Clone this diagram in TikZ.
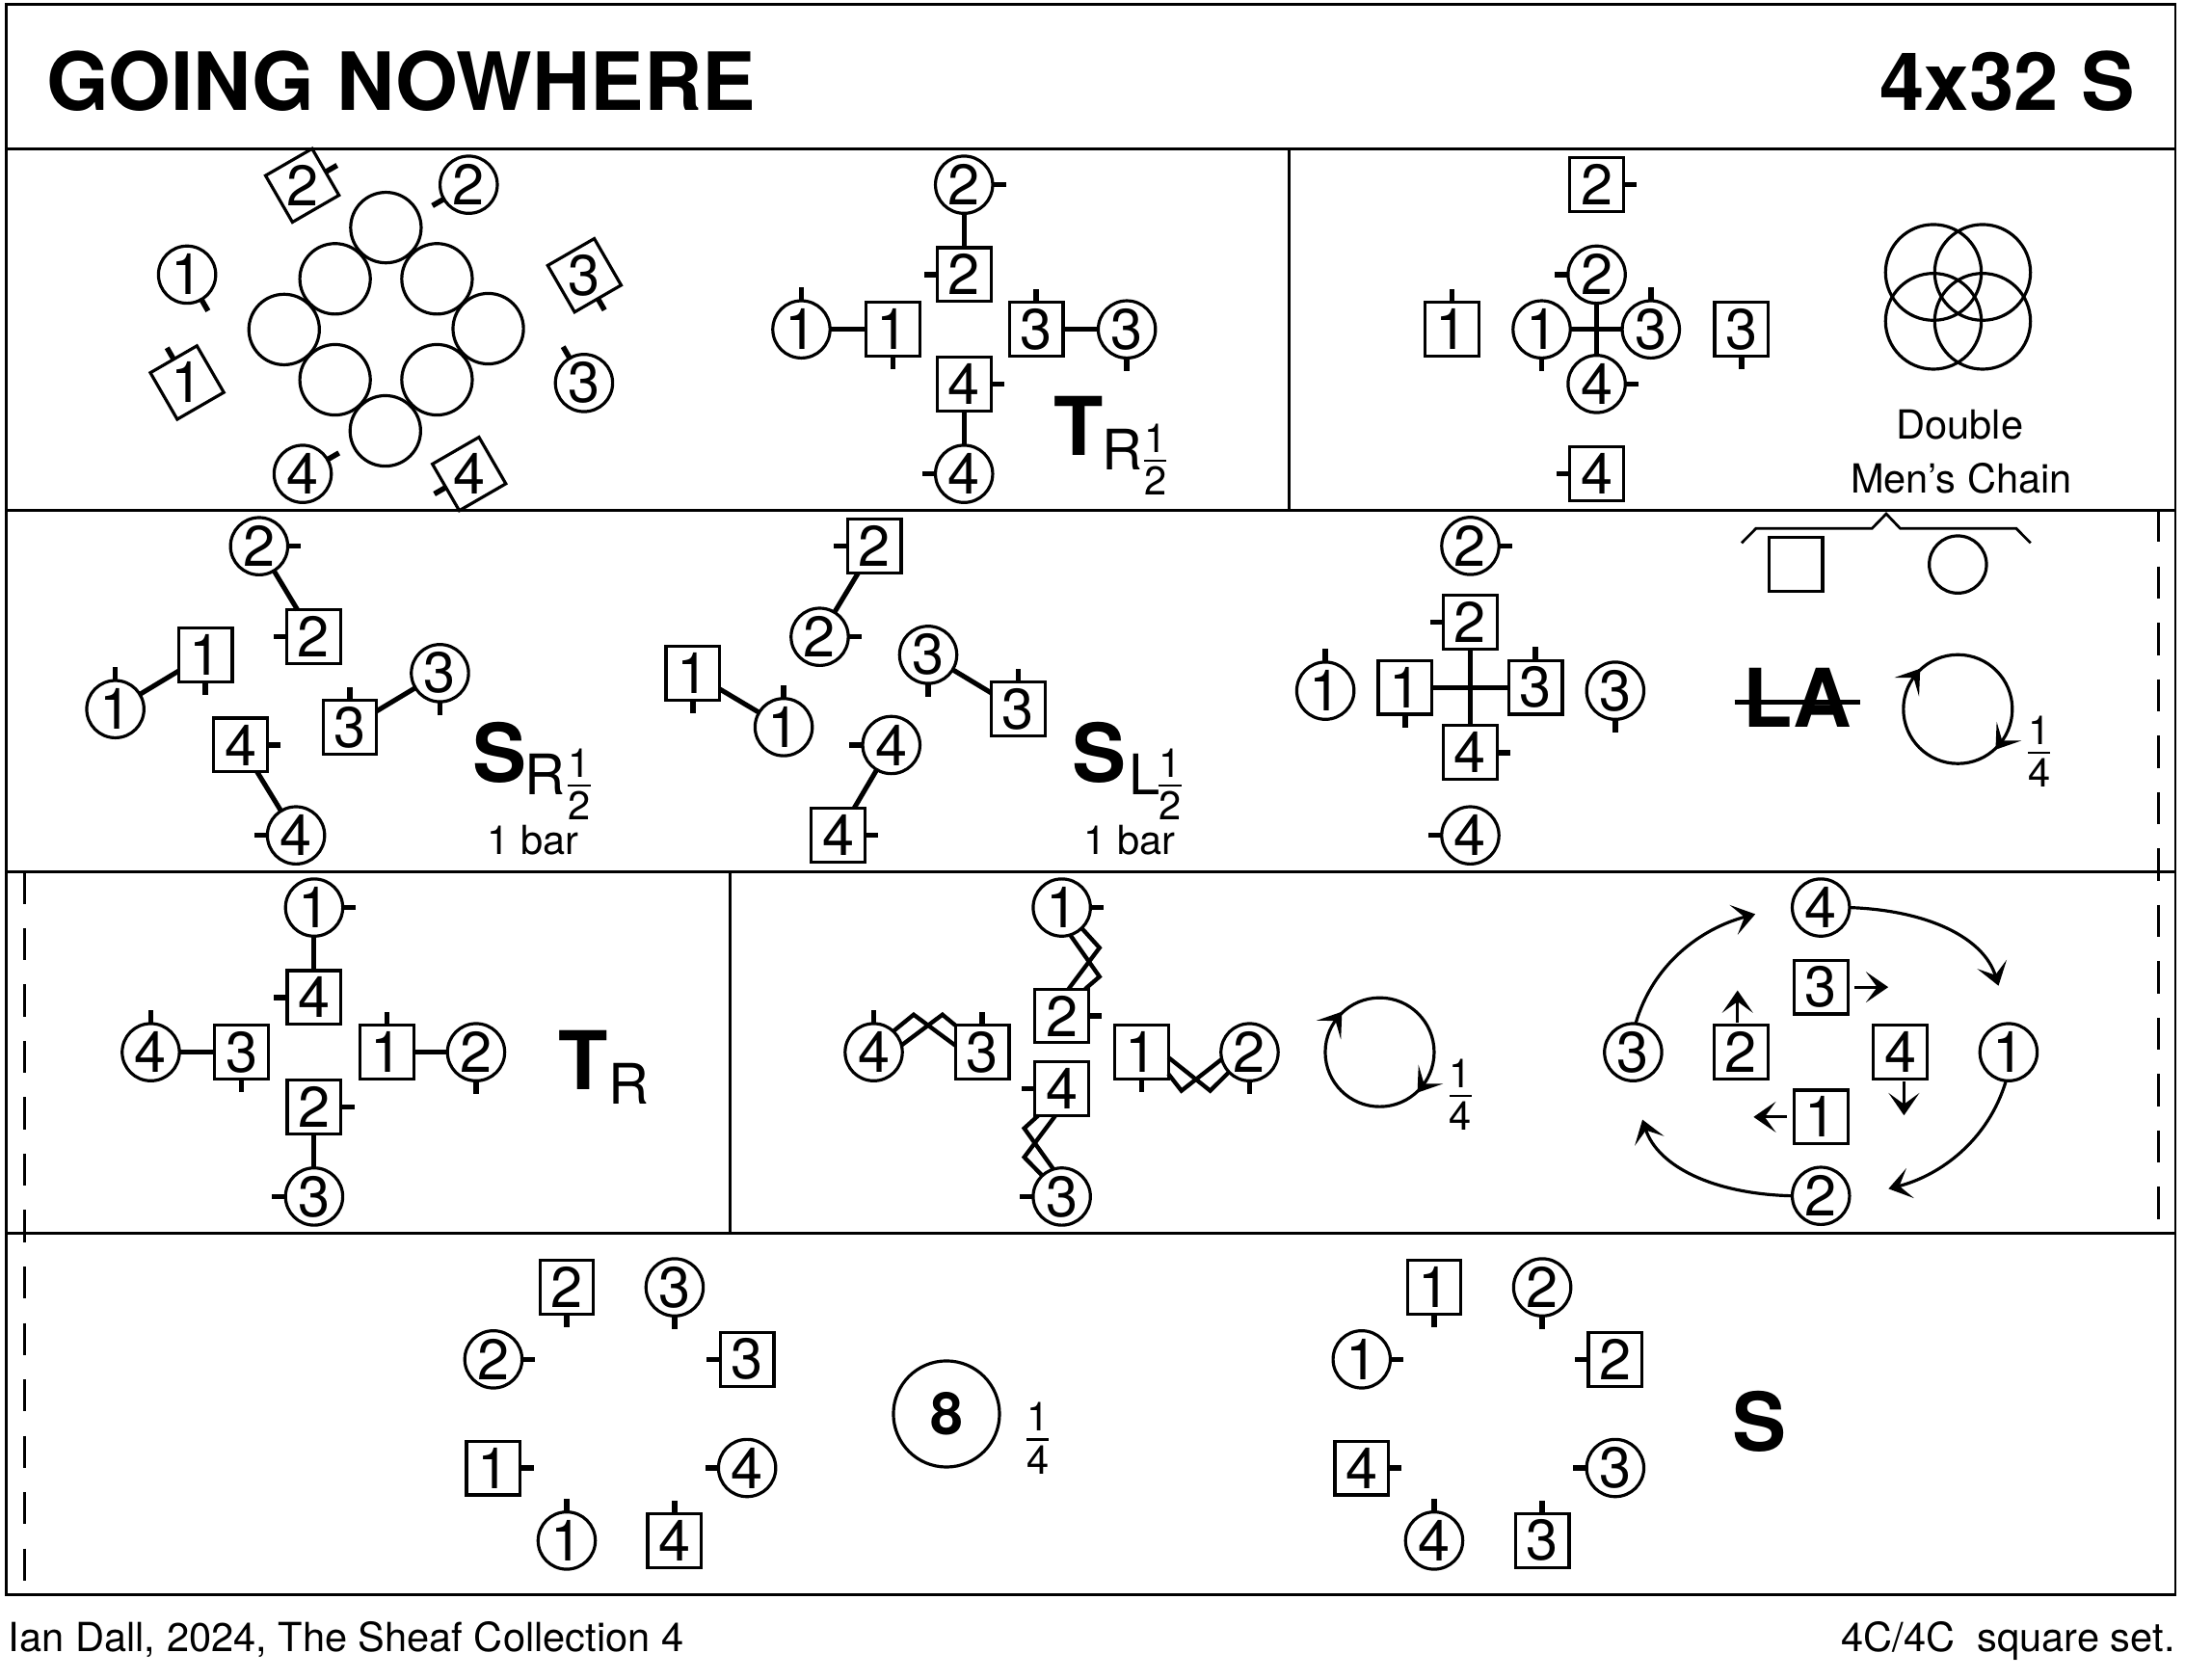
\documentclass[tikz,border=0pt]{standalone}
\usepackage{fontspec}
\setmainfont{TeX Gyre Heros}
\usetikzlibrary{arrows.meta,shapes.geometric}
\newcommand\fsz[1]{\fontsize{#1}{#1}\selectfont}
\tikzset{
  x=1pt,y=-1pt,
  panel/.style={line width=1.9pt},
  dashline/.style={line width=1.9pt,dash pattern=on 23pt off 17.4pt},
  cdancer/.style={circle,draw,line width=2.2pt,minimum size=41pt,inner sep=0pt,outer sep=0pt,font=\fsz{41}},
  sdancer/.style={rectangle,draw,line width=2.2pt,minimum size=38.5pt,inner sep=0pt,outer sep=0pt,font=\fsz{41}},
  rlabel/.style={inner sep=0pt,font=\fsz{41}},
  tick/.style={line width=3.8pt},
  conn/.style={line width=3.5pt},
  chainl/.style={line width=3pt,line join=miter},
  ringc/.style={circle,draw,line width=2.2pt,minimum size=50.5pt,inner sep=0pt},
  dring/.style={circle,draw,line width=2.2pt,minimum size=68.6pt,inner sep=0pt},
  plain/.style={inner sep=0pt,font=\fsz{28.7}},
  bigb/.style={inner sep=0pt,font=\fsz{58}\bfseries},
  subl/.style={inner sep=0pt,font=\fsz{40}},
  fracn/.style={inner sep=0pt,font=\fsz{28.7}},
  hd/.style={-{Stealth[length=16pt,width=22pt,inset=8pt]},line width=2.2pt},
  turnc/.style={line width=2.2pt},
}
\newcommand\cirt[5]{\node[cdancer] (#1) at (#2,#3) {#4}; \draw[tick] (#1.#5) -- ++(#5:9.5pt);}
\newcommand\squt[5]{\node[sdancer] (#1) at (#2,#3) {#4}; \draw[tick] (#1.#5) -- ++(#5:9.5pt);}
\newcommand\rsqu[5]{\node[sdancer,rotate=30] (#1) at (#2,#3) {}; \node[rlabel] (#1l) at (#1) {#4}; \draw[tick] (#1.#5) -- ++({#5+30}:9.5pt);}
\newcommand\frc[5]{\node[fracn,anchor=base] (#1n) at (#2,#3-6) {#4}; \node[fracn,anchor=north] (#1d) at (#2,#3+4) {#5}; \draw[line width=1.6pt] (#2-8,#3) -- (#2+8,#3);}
\newcommand\turn[3]{\coordinate (#1) at (#2,#3);
  \draw[turnc] (#1) circle[radius=39pt];
  \fill (#2-27,#3-29) -- (#2-45.4,#3-22.6) -- (#2-31.7,#3-22.5) -- (#2-27.8,#3-9) -- cycle;
  \fill (#2+27,#3+29) -- (#2+45.4,#3+22.6) -- (#2+31.7,#3+22.5) -- (#2+27.8,#3+9) -- cycle;}
\begin{document}
\begin{tikzpicture}
\useasboundingbox (0,0) rectangle (1565,1202.6);
% frame
\draw[panel] (4.7,3) rectangle (1558,1142);
\draw[panel] (4.7,106.5) -- (1558,106.5);
\draw[panel] (4.7,365.3) -- (1558,365.3);
\draw[panel] (4.7,624.3) -- (1558,624.3);
\draw[panel] (4.7,883.1) -- (1558,883.1);
\draw[panel] (923.5,106.5) -- (923.5,365.3);
\draw[panel] (522.7,624.3) -- (522.7,883.1);
\draw[dashline] (17.5,624.3) -- (17.5,1142);
\draw[dashline] (1546,365.3) -- (1546,883.1);
% title
\node[anchor=base west,inner sep=0pt,font=\fsz{57.5}\bfseries] (title) at (33,79) {GOING NOWHERE};
\node[anchor=base east,inner sep=0pt,font=\fsz{57.5}\bfseries] (form) at (1529,79) {4x32 S};
\node[plain,anchor=base west] (foot1) at (6,1182.7) {Ian Dall, 2024, The Sheaf Collection 4};
\node[plain,anchor=base east] (foot2) at (1558,1182.7) {4C/4C\ \ square set.};
% panel 1 : ring
\foreach \n/\xx/\yy in {ra/276.4/163,rb/240/199.7,rc/313/199.7,rd/203.5/236,re/349.7/235.4,rf/240/272,rg/313/272,rh/276/308.6}
  \node[ringc] (\n) at (\xx,\yy) {};
\cirt{ac1}{134}{196.7}{1}{-60}
\rsqu{as1}{134}{274}{1}{90}
\rsqu{as2}{216.5}{132.8}{2}{0}
\cirt{ac2}{335.7}{132.3}{2}{210}
\rsqu{as3}{418.6}{197.2}{3}{-90}
\cirt{ac3}{418.3}{274.3}{3}{120}
\rsqu{as4}{336}{339.4}{4}{180}
\cirt{ac4}{216.8}{339.4}{4}{30}
% panel 2 : turn
\cirt{bc2}{690.5}{132.3}{2}{0}
\squt{bs2}{690.5}{196.7}{2}{180}
\cirt{bc1}{574}{235.9}{1}{90}
\squt{bs1}{639.5}{235.9}{1}{-90}
\squt{bs3}{742.2}{235.9}{3}{90}
\cirt{bc3}{807.1}{235.9}{3}{-90}
\squt{bs4}{690.5}{275}{4}{0}
\cirt{bc4}{690.5}{339.4}{4}{180}
\draw[conn] (bc2) -- (bs2);
\draw[conn] (bc1) -- (bs1);
\draw[conn] (bs3) -- (bc3);
\draw[conn] (bs4) -- (bc4);
\node[bigb,anchor=base west] (bT) at (755,326.3) {T};
\node[subl,anchor=base west] (bR) at (789,336.4) {R};
\frc{bf}{827.6}{330.2}{1}{2}
% panel 3 : chain
\squt{cs2}{1143.6}{132.3}{2}{0}
\cirt{cc2}{1143.6}{196.7}{2}{180}
\squt{cs1}{1039.9}{235.9}{1}{90}
\cirt{cc1}{1104.2}{235.9}{1}{-90}
\cirt{cc3}{1182.4}{235.9}{3}{90}
\squt{cs3}{1247.3}{235.9}{3}{-90}
\cirt{cc4}{1143.6}{275}{4}{0}
\squt{cs4}{1143.6}{339.4}{4}{180}
\draw[conn] (cc1) -- (cc3);
\draw[conn] (cc2) -- (cc4);
\foreach \n/\xx/\yy in {da/1384.8/195.1,db/1420/195.1,dc/1384.8/230.1,dd/1420/230.1}
  \node[dring] (\n) at (\xx,\yy) {};
\node[plain,anchor=base] (dbl) at (1403.7,314.1) {Double};
\node[plain,anchor=base] (men) at (1404.7,352.8) {Men’s Chain};
% row 2 : set right
\cirt{ec2}{185.6}{391.2}{2}{0}
\squt{es2}{224.7}{456.1}{2}{180}
\squt{es1}{147.1}{469}{1}{-90}
\cirt{ec1}{82.6}{507.9}{1}{90}
\squt{es3}{250.6}{520.8}{3}{90}
\cirt{ec3}{315.1}{482.1}{3}{-90}
\squt{es4}{172.4}{533.6}{4}{0}
\cirt{ec4}{212}{598.3}{4}{180}
\draw[conn] (ec2) -- (es2);
\draw[conn] (es1) -- (ec1);
\draw[conn] (es3) -- (ec3);
\draw[conn] (es4) -- (ec4);
\node[bigb,anchor=base west] (eS) at (338.2,560) {S};
\node[subl,anchor=base west] (eR) at (376,569.5) {R};
\frc{ef}{414.9}{562.6}{1}{2}
\node[plain,anchor=base] (ebar) at (382,611.7) {1 bar};
% row 2 : set left
\squt{fs2}{626.2}{391.2}{2}{180}
\cirt{fc2}{587.1}{456.1}{2}{0}
\squt{fs1}{496.3}{482.1}{1}{-90}
\cirt{fc1}{561.3}{520.8}{1}{90}
\cirt{fc3}{664.8}{469}{3}{-90}
\squt{fs3}{729.2}{507.9}{3}{90}
\cirt{fc4}{638.4}{533.6}{4}{180}
\squt{fs4}{600.3}{598.3}{4}{0}
\draw[conn] (fs2) -- (fc2);
\draw[conn] (fs1) -- (fc1);
\draw[conn] (fc3) -- (fs3);
\draw[conn] (fc4) -- (fs4);
\node[bigb,anchor=base west] (fS) at (767.7,560) {S};
\node[subl,anchor=base west] (fL) at (808.7,569.5) {L};
\frc{ff}{838}{562.6}{1}{2}
\node[plain,anchor=base] (fbar) at (809,611.7) {1 bar};
% row 2 : cross
\cirt{gc2}{1053.1}{391}{2}{0}
\squt{gs2}{1053.1}{445.5}{2}{180}
\cirt{gc1}{949.3}{494.7}{1}{90}
\squt{gs1}{1006.4}{492.3}{1}{-90}
\squt{gs3}{1099.8}{492.3}{3}{90}
\cirt{gc3}{1156.9}{494.7}{3}{-90}
\squt{gs4}{1053.1}{539}{4}{0}
\cirt{gc4}{1053.1}{598.3}{4}{180}
\draw[conn] (gs1) -- (gs3);
\draw[conn] (gs2) -- (gs4);
\draw[line width=1.9pt] (1247.4,388.9) -- (1257.7,378.5) -- (1340.8,378.5) -- (1351,368) -- (1361,378.5) -- (1444.1,378.5) -- (1454.4,388.9);
\node[sdancer] (hs) at (1286.2,404.3) {};
\node[cdancer] (hc) at (1402.3,404.3) {};
\node[bigb,anchor=base west] (LA) at (1248.4,521) {LA};
\draw[line width=3.2pt] (1242.4,502.8) -- (1332.2,502.8);
\turn{ht}{1402.3}{507.9}
\frc{hf}{1460.6}{539}{1}{4}
% row 3 : turn
\cirt{jc1}{225}{650}{1}{0}
\squt{js4}{225}{714.4}{4}{180}
\cirt{jc4}{108}{753.6}{4}{90}
\squt{js3}{173}{753.6}{3}{-90}
\squt{js1}{277}{753.6}{1}{90}
\cirt{jc2}{341}{753.6}{2}{-90}
\squt{js2}{225}{792.7}{2}{0}
\cirt{jc3}{225}{857}{3}{180}
\draw[conn] (jc1) -- (js4);
\draw[conn] (jc4) -- (js3);
\draw[conn] (js1) -- (jc2);
\draw[conn] (js2) -- (jc3);
\node[bigb,anchor=base west] (jT) at (400,780.5) {T};
\node[subl,anchor=base west] (jR) at (435.5,790.5) {R};
% row 3 : rights
\cirt{kc1}{760.5}{650}{1}{0}
\squt{ks2}{760.5}{727.6}{2}{0}
\squt{ks3}{703.5}{753.6}{3}{90}
\cirt{kc4}{625.8}{753.6}{4}{90}
\squt{ks1}{817.6}{753.6}{1}{-90}
\cirt{kc2}{895}{753.6}{2}{-90}
\squt{ks4}{760.5}{779.6}{4}{180}
\cirt{kc3}{760.5}{857}{3}{180}
\draw[chainl] (kc4.47) -- (654.4,726.7) -- (ks3.166);
\draw[chainl] (kc4.14) -- (675,726.7) -- (ks3.135);
\draw[chainl] (ks1.-11) -- (866.8,781.2) -- (kc2.224);
\draw[chainl] (ks1.-39) -- (846.2,781.2) -- (kc2.194);
\draw[chainl] (kc1.-73) -- (787.5,699.5) -- (ks2.49);
\draw[chainl] (kc1.-46) -- (787.5,678.8) -- (ks2.76);
\draw[chainl] (ks4.-131) -- (733.6,808.1) -- (kc3.107);
\draw[chainl] (ks4.-103) -- (733.6,828.8) -- (kc3.133);
\turn{kt}{988.2}{753.6}
\frc{kf}{1046.2}{785}{1}{4}
% row 3 : chase
\node[cdancer] (lc3) at (1169.7,753.6) {3};
\node[cdancer] (lc4) at (1304.2,650) {4};
\node[cdancer] (lc1) at (1438.6,753.6) {1};
\node[cdancer] (lc2) at (1304.2,856.5) {2};
\coordinate (la) at (1257.2,654.7);
\coordinate (lb) at (1431.4,706);
\coordinate (ld) at (1352.6,851.4);
\coordinate (le) at (1176.4,801.9);
\draw[hd] (lc3.85) .. controls (1184,690) and (1218.6,665) .. (la);
\draw[hd] (lc4.0) .. controls (1381.6,652) and (1421,672) .. (lb);
\draw[hd] (lc1.265) .. controls (1424,817) and (1389.4,842) .. (ld);
\draw[hd] (lc2.180) .. controls (1226.8,855.2) and (1187.3,835.2) .. (le);
\node[sdancer] (ls3) at (1304.2,707) {3};
\node[sdancer] (ls2) at (1246.9,753.6) {2};
\node[sdancer] (ls4) at (1361,753.6) {4};
\node[sdancer] (ls1) at (1304.2,800) {1};
\draw[hd,shorten <=5pt] (ls3.east) -- ++(29pt,0pt);
\draw[hd,shorten <=2pt] ([xshift=-2.4pt]ls2.north) -- ++(0pt,25pt);
\draw[hd,shorten <=2pt] ([xshift=2.7pt]ls4.south) -- ++(0pt,-26pt);
\draw[hd,shorten <=5pt] (ls1.west) -- ++(-29pt,0pt);
% row 4 left
\squt{ms2}{405.9}{922}{2}{-90}
\cirt{mc3}{483.2}{922}{3}{-90}
\cirt{mc2}{353.4}{973.6}{2}{0}
\squt{ms3}{535.1}{973.6}{3}{180}
\squt{ms1}{353.4}{1051.4}{1}{0}
\cirt{mc4}{535.1}{1051.4}{4}{180}
\cirt{mc1}{405.9}{1103.4}{1}{90}
\squt{ms4}{483.2}{1103.4}{4}{90}
\node[circle,draw,line width=2.2pt,minimum size=76pt,inner sep=0pt,font=\fsz{42}\bfseries] (eight) at (677.9,1012.7) {8};
\frc{mf}{743.3}{1031.1}{1}{4}
% row 4 right
\squt{ns1}{1027.2}{922}{1}{-90}
\cirt{nc2}{1104.6}{922}{2}{-90}
\cirt{nc1}{975.3}{973.6}{1}{0}
\squt{ns2}{1156.9}{973.6}{2}{180}
\squt{ns4}{975.3}{1051.4}{4}{0}
\cirt{nc3}{1156.9}{1051.4}{3}{180}
\cirt{nc4}{1027.2}{1103.4}{4}{90}
\squt{ns3}{1104.6}{1103.4}{3}{90}
\node[bigb,anchor=base west] (nS) at (1240.5,1039.5) {S};
\end{tikzpicture}
\end{document}
